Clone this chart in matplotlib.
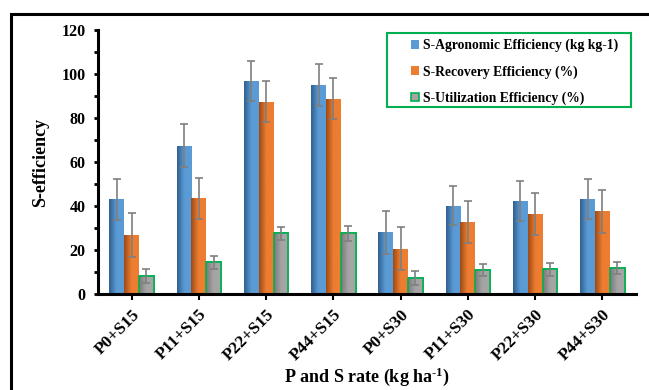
import matplotlib
matplotlib.use("Agg")
import matplotlib.pyplot as plt
import numpy as np
from matplotlib.patches import Rectangle
from matplotlib.colors import LinearSegmentedColormap

categories = ["P0+S15", "P11+S15", "P22+S15", "P44+S15",
              "P0+S30", "P11+S30", "P22+S30", "P44+S30"]
agronomic = [43.0, 67.5, 96.7, 95.0, 28.0, 40.2, 42.4, 43.2]
agronomic_err = [9.5, 9.7, 9.2, 9.7, 9.7, 9.0, 9.1, 9.0]
recovery = [26.8, 43.5, 87.4, 88.8, 20.5, 32.9, 36.5, 37.6]
recovery_err = [9.9, 9.3, 9.3, 9.4, 9.8, 9.5, 9.5, 9.7]
utilization = [8.3, 14.4, 27.6, 27.6, 7.3, 10.9, 11.2, 11.8]
utilization_err = [3.1, 3.0, 3.0, 3.3, 3.2, 2.9, 3.0, 2.9]
series_labels = ["S-Agronomic Efficiency (kg kg-1)",
                 "S-Recovery Efficiency (%)",
                 "S-Utilization Efficiency (%)"]

plt.rcParams['font.family'] = ['Liberation Serif', 'DejaVu Serif']
plt.rcParams['font.weight'] = 'bold'
plt.rcParams['mathtext.fontset'] = 'custom'
plt.rcParams['mathtext.rm'] = 'Liberation Serif:bold'
plt.rcParams['mathtext.bf'] = 'Liberation Serif:bold'
plt.rcParams['mathtext.default'] = 'bf'

fig = plt.figure(figsize=(6.49, 3.9), dpi=100)
ax = fig.add_axes([98/649, 1-294/390, (636-98)/649, (294-30)/390])

# outer frame
fig.patches.append(Rectangle((11/649, -0.2), 1.2, 1.2 - 14/390,
                             transform=fig.transFigure, fill=False,
                             edgecolor='black', linewidth=2.2, zorder=10))

x = np.arange(len(categories))
w = 0.22
specs = [
    (agronomic, agronomic_err, -w, '#5B9BD5', '#2F5F8F', None),
    (recovery, recovery_err, 0.0, '#ED7D31', '#9C4A17', None),
    (utilization, utilization_err, w, '#A5A5A5', '#7A7A7A', '#00B050'),
]
handles = []
for (vals, errs, off, light, dark, edge), lab in zip(specs, series_labels):
    bars = ax.bar(x + off, vals, w, color=light,
                  edgecolor=edge if edge else 'none',
                  linewidth=1.2 if edge else 0, zorder=2, label=lab)
    cmap = LinearSegmentedColormap.from_list('g', [dark, light, light])
    grad = np.linspace(0, 1, 64).reshape(1, -1)
    for b in bars:
        bx, by, bw, bh = b.get_x(), b.get_y(), b.get_width(), b.get_height()
        im = ax.imshow(grad, cmap=cmap, aspect='auto',
                       extent=(bx, bx + bw, by, by + bh), zorder=2.1,
                       interpolation='bicubic')
        im.set_clip_path(b)
    if edge:
        ax.bar(x + off, vals, w, color='none', edgecolor=edge,
               linewidth=1.2, zorder=2.2)
    ax.errorbar(x + off, vals, yerr=errs, fmt='none', ecolor='#7F7F7F',
                elinewidth=1.2, capsize=3, capthick=1.2, zorder=3)
    handles.append(bars)

ax.set_xlim(-0.5, len(categories) - 0.5)
ax.set_ylim(0, 120)
ax.set_yticks(np.arange(0, 121, 20))
ax.set_yticks(np.arange(10, 120, 20), minor=True)
ax.set_xticks(x)
ax.set_xticklabels(categories, rotation=45, ha='right', rotation_mode='anchor',
                   fontsize=12.5, fontweight='bold')
for lbl in ax.get_yticklabels():
    lbl.set_fontweight('bold')
    lbl.set_fontsize(11.5)
ax.tick_params(axis='y', which='major', direction='out', length=3, width=2, pad=6)
ax.tick_params(axis='y', which='minor', direction='out', length=3, width=2)
ax.tick_params(axis='x', direction='out', length=4, width=1.5, pad=5)

for s in ['top', 'right']:
    ax.spines[s].set_visible(False)
for s in ['left', 'bottom']:
    ax.spines[s].set_linewidth(2.2)

ax.set_ylabel("S-efficiency", fontsize=13, fontweight='bold', labelpad=9)
ax.set_xlabel(r"P and S rate (kg ha$^{\text{-1}}$)", fontsize=13,
              fontweight='bold', labelpad=1)

# legend box
ax.add_patch(Rectangle(((387-98)/538, (294-107)/264), (631-387)/538, (107-33)/264,
                       transform=ax.transAxes, fill=True, facecolor='white',
                       edgecolor='#00B050', linewidth=1.5, zorder=4,
                       clip_on=False))
leg = ax.legend(handles=handles, labels=series_labels, loc='upper left',
                bbox_to_anchor=((408-98)/538, (294-36)/264),
                prop={'weight': 'bold', 'size': 9.8},
                frameon=False,
                handlelength=0.6, handleheight=0.6, handletextpad=0.3,
                labelspacing=0.95, borderpad=0.2, borderaxespad=0)
leg.set_zorder(5)

fig.savefig("out.png", dpi=100)
